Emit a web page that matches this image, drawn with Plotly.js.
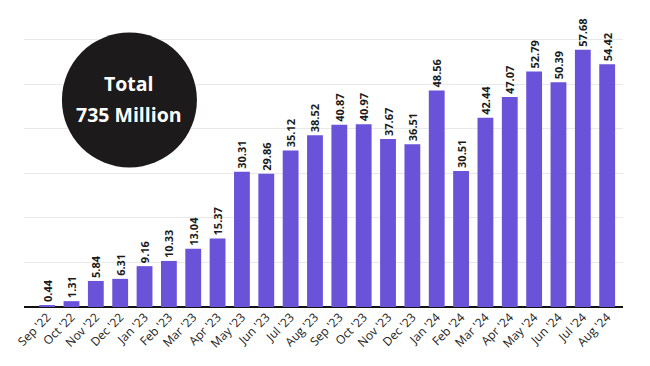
<!DOCTYPE html>
<html>
<head>
<meta charset="utf-8">
<script src="https://cdn.plot.ly/plotly-3.0.1.min.js"></script>
<style>html,body{margin:0;padding:0;background:#fff;}#chart{width:650px;height:366px;}</style>
</head>
<body>
<div id="chart"></div>
<script>
var months = ["Sep '22","Oct '22","Nov '22","Dec '22","Jan '23","Feb '23","Mar '23","Apr '23","May '23","Jun '23","Jul '23","Aug '23","Sep '23","Oct '23","Nov '23","Dec '23","Jan '24","Feb '24","Mar '24","Apr '24","May '24","Jun '24","Jul '24","Aug '24"];
var values = [0.44,1.31,5.84,6.31,9.16,10.33,13.04,15.37,30.31,29.86,35.12,38.52,40.87,40.97,37.67,36.51,48.56,30.51,42.44,47.07,52.79,50.39,57.68,54.42];
var totalLines = ["Total", "735 Million"];

var trace = {
  type: 'bar',
  x: months.map(function(m, i){ return i; }),
  y: values,
  text: values.map(function(v){ return v.toFixed(2); }),
  textposition: 'outside',
  textangle: -90,
  constraintext: 'none',
  cliponaxis: false,
  textfont: {family: 'Open Sans, sans-serif', size: 11, color: '#1a1a1a', weight: 'bold'},
  marker: {color: '#6a53d9'},
  width: 0.65,
  hoverinfo: 'none'
};

var layout = {
  width: 650, height: 366,
  margin: {l: 24, r: 27, t: 10, b: 59},
  paper_bgcolor: '#fff', plot_bgcolor: '#fff',
  showlegend: false,
  xaxis: {
    range: [-0.95, 23.65],
    tickmode: 'array',
    tickvals: months.map(function(m, i){ return i; }),
    ticktext: months,
    tickangle: -45,
    tickfont: {family: 'Open Sans, sans-serif', size: 12, color: '#222'},
    showgrid: false, zeroline: false, showline: false, ticks: ''
  },
  yaxis: {
    range: [0, 66.6],
    dtick: 10,
    showticklabels: false,
    showgrid: true, gridcolor: '#e9e9e9', gridwidth: 1,
    zeroline: true, zerolinecolor: '#111', zerolinewidth: 2,
    ticks: ''
  },
  shapes: [{
    type: 'circle', xref: 'paper', yref: 'paper',
    xsizemode: 'pixel', ysizemode: 'pixel',
    xanchor: 0.176, yanchor: 0.697,
    x0: -67.5, x1: 67.5, y0: -67.5, y1: 67.5,
    fillcolor: '#1c1a1a', line: {width: 0}
  }],
  annotations: [{
    xref: 'paper', yref: 'paper', x: 0.176, y: 0.697,
    xanchor: 'center', yanchor: 'middle', yshift: 16,
    text: '<b>' + totalLines[0] + '</b>',
    showarrow: false, align: 'center',
    font: {family: 'Open Sans, sans-serif', size: 19.5, color: '#fff'}
  }, {
    xref: 'paper', yref: 'paper', x: 0.176, y: 0.697,
    xanchor: 'center', yanchor: 'middle', yshift: -15,
    text: '<b>' + totalLines[1] + '</b>',
    showarrow: false, align: 'center',
    font: {family: 'Open Sans, sans-serif', size: 19.5, color: '#fff'}
  }]
};

Plotly.newPlot('chart', [trace], layout, {displayModeBar: false, staticPlot: true});
</script>
</body>
</html>
